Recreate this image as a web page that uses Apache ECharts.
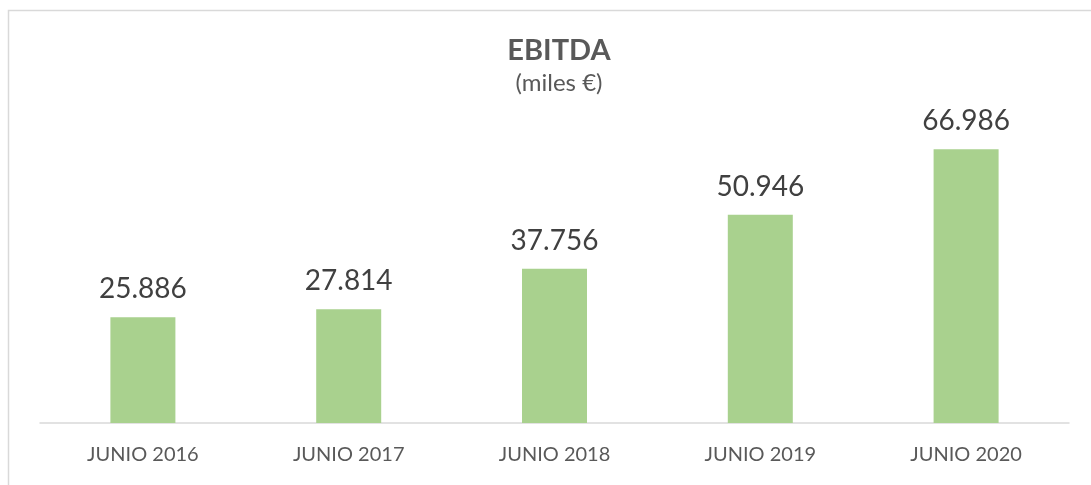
<!DOCTYPE html>
<html>
<head>
    <meta charset="utf-8">
    <title>EBITDA</title>
    <script src="https://cdn.jsdelivr.net/npm/echarts@6/dist/echarts.min.js"></script>
    <style>
        html, body {margin: 0; padding: 0; background: #fff;}
        #main {width: 1091px; height: 485px;}
    </style>
</head>
<body>
<div id="main"></div>
<script type="text/javascript">
    // datos (miles €)
    var categories = ['JUNIO 2016', 'JUNIO 2017', 'JUNIO 2018', 'JUNIO 2019', 'JUNIO 2020'];
    var ebitda = [25886, 27814, 37756, 50946, 66986];

    function fmtMiles(v) {
        return String(v).replace(/\B(?=(\d{3})+(?!\d))/g, '.');
    }

    var chart = echarts.init(document.getElementById('main'));

    var option = {
        backgroundColor: '#fff',
        animation: false,
        textStyle: {fontFamily: 'Lato'},
        graphic: [
            {
                type: 'rect',
                shape: {x: 8.5, y: 10.5, width: 1200, height: 600},
                style: {fill: 'none', stroke: '#d9d9d9', lineWidth: 1.5},
                silent: true
            }
        ],
        title: {
            text: 'EBITDA',
            subtext: '(miles €)',
            left: 554,
            top: 31,
            textAlign: 'center',
            itemGap: 6,
            textStyle: {fontSize: 29, fontWeight: 'bold', color: '#595959', fontFamily: 'Lato'},
            subtextStyle: {fontSize: 24, color: '#595959', fontFamily: 'Lato'}
        },
        grid: {left: 40, right: 22, top: 96, bottom: 62},
        xAxis: {
            type: 'category',
            data: categories,
            axisLine: {lineStyle: {color: '#d9d9d9', width: 1.5}},
            axisTick: {show: false},
            axisLabel: {fontSize: 20, color: '#595959', margin: 22, fontFamily: 'Lato'}
        },
        yAxis: {
            type: 'value',
            min: 0,
            max: 80000,
            show: false,
            splitLine: {show: false}
        },
        series: [
            {
                type: 'bar',
                data: ebitda,
                barWidth: 65,
                itemStyle: {color: '#a9d18e'},
                label: {
                    show: true,
                    position: 'top',
                    distance: 14,
                    fontSize: 28,
                    color: '#404040',
                    fontFamily: 'Lato',
                    formatter: function (p) { return fmtMiles(p.value); }
                }
            }
        ]
    };
    chart.setOption(option);
</script>
</body>
</html>
